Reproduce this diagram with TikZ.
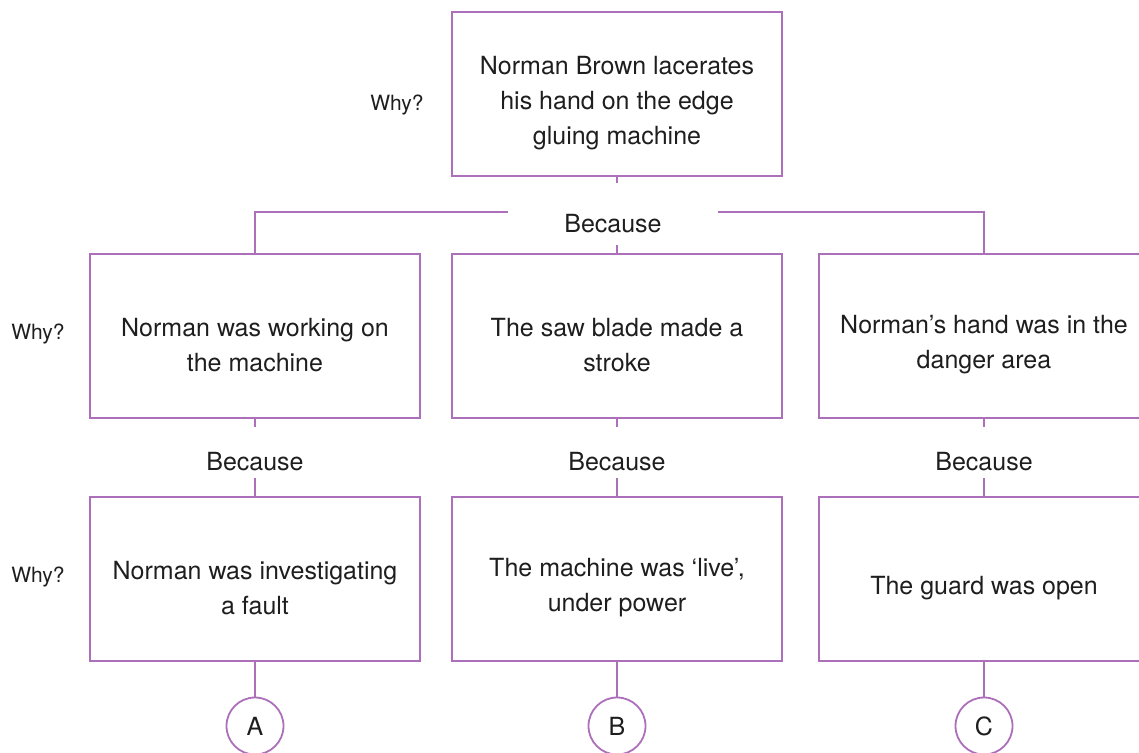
\documentclass[tikz,border=0pt]{standalone}
\usepackage{fontspec}
\setmainfont{TeX Gyre Heros}
\usetikzlibrary{positioning}
\definecolor{whyline}{RGB}{172,112,186}
\definecolor{whytext}{RGB}{30,30,30}
\tikzset{
	conn/.style={draw=whyline, line width=1.8pt},
	boxtext/.style={align=center, text=whytext, font=\fontsize{25}{35}\selectfont, yshift=-9pt},
	whybox/.style={conn, minimum width=330pt, minimum height=164pt, label={[boxtext]center:#1}},
	because/.style={text=whytext, font=\fontsize{25}{30}\selectfont},
	whylabel/.style={text=whytext, font=\fontsize{21}{25}\selectfont},
	ring/.style={conn, circle, minimum size=57pt, inner sep=0pt, text=whytext, font=\fontsize{25}{30}\selectfont}
}

\begin{document}
\begin{tikzpicture}[x=1pt,y=-1pt]
	\useasboundingbox (0,0) rectangle (1139,752);
	% boxes
	\node[whybox={Norman Brown lacerates\\his hand on the edge\\gluing machine}] (top) at (617,94) {};
	\node[whybox={Norman was working on\\the machine}] (work) at (255,336) {};
	\node[whybox={The saw blade made a\\stroke}] (saw) at (617,336) {};
	\node[whybox={Norman’s hand was in the\\danger area}] (hand) at (984,336) {};
	\node[whybox={Norman was investigating\\a fault}] (fault) at (255,579) {};
	\node[whybox={The machine was ‘live’,\\under power}] (live) at (617,579) {};
	\node[whybox={The guard was open}] (guard) at (984,579) {};
	% why? labels
	\node[whylabel] (why0) at (397,105) {Why?};
	\node[whylabel] (why1) at (38,334) {Why?};
	\node[whylabel] (why2) at (38,577) {Why?};
	% first because
	\node[because] (bc0) at (613,224) {Because};
	\coordinate (s0) at (617,183);
	\coordinate (l0) at (508,212);
	\coordinate (r0) at (718,212);
	\coordinate (m0) at (617,245);
	\draw[conn] (top.south) -- (s0);
	\draw[conn] (l0) -| (work.north);
	\draw[conn] (r0) -| (hand.north);
	\draw[conn] (m0) -- (saw.north);
	% second because
	\node[because] (bc1) at (255,462) {Because};
	\node[because] (bc2) at (617,462) {Because};
	\node[because] (bc3) at (984,462) {Because};
	\coordinate (w1) at (255,427); \coordinate (w2) at (255,478);
	\coordinate (b1) at (617,427); \coordinate (b2) at (617,478);
	\coordinate (h1) at (984,427); \coordinate (h2) at (984,478);
	\draw[conn] (work.south) -- (w1);
	\draw[conn] (w2) -- (fault.north);
	\draw[conn] (saw.south) -- (b1);
	\draw[conn] (b2) -- (live.north);
	\draw[conn] (hand.south) -- (h1);
	\draw[conn] (h2) -- (guard.north);
	% end points
	\node[ring] (A) at (255,726) {A};
	\node[ring] (B) at (617,726) {B};
	\node[ring] (C) at (984,726) {C};
	\draw[conn] (fault.south) -- (A);
	\draw[conn] (live.south) -- (B);
	\draw[conn] (guard.south) -- (C);
\end{tikzpicture}
\end{document}
